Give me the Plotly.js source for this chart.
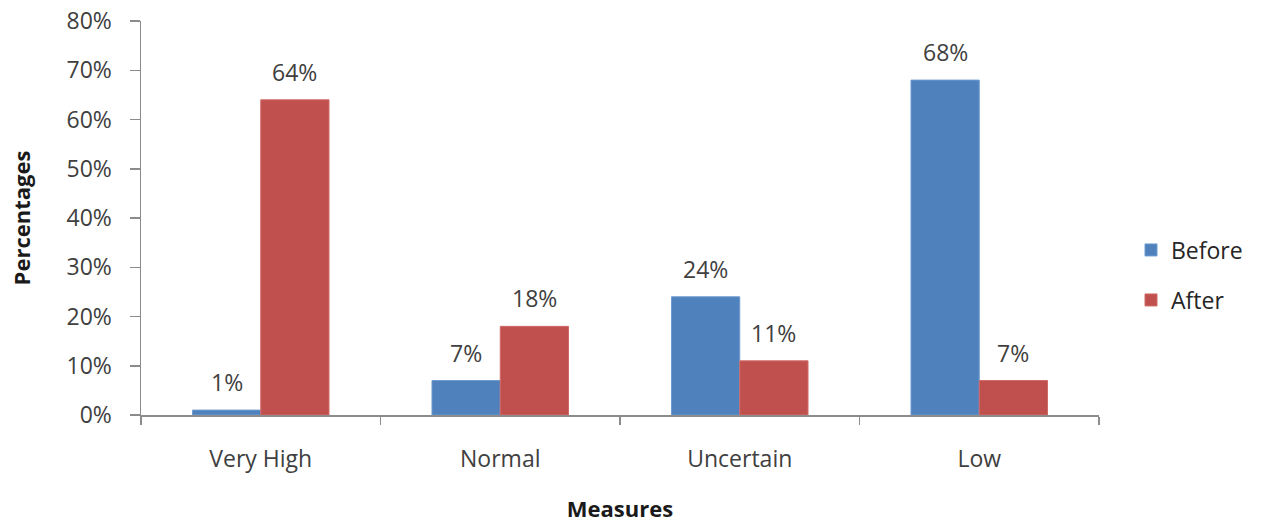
<!DOCTYPE html>
<html>
<head>
<meta charset="utf-8">
<script src="https://cdn.plot.ly/plotly-3.0.1.min.js"></script>
<style>
  html, body { margin: 0; padding: 0; background: #fff; }
  #chart { width: 1262px; height: 523px; }
</style>
</head>
<body>
<div id="chart"></div>
<script>
// Share of responses per measure, before and after
const categories = ["Very High", "Normal", "Uncertain", "Low"];
const beforeValues = [0.01, 0.07, 0.24, 0.68];
const afterValues = [0.64, 0.18, 0.11, 0.07];
const seriesNames = ["Before", "After"];
const yTickValues = [0, 0.1, 0.2, 0.3, 0.4, 0.5, 0.6, 0.7, 0.8];

const FONT = "'Open Sans', Lato, sans-serif";
const FS = 23;
const BLUE = "#4F81BD";
const RED = "#C0504D";

const traces = [
  {
    type: "bar", name: seriesNames[0], x: categories, y: beforeValues,
    marker: { color: BLUE, line: { color: "#6f9bd0", width: 1 } },
    legend: "legend", hoverinfo: "x+y"
  },
  {
    type: "bar", name: seriesNames[1], x: categories, y: afterValues,
    marker: { color: RED, line: { color: "#d06a67", width: 1 } },
    legend: "legend2", hoverinfo: "x+y"
  }
];

// value labels above each bar, offset to its slot in the group
const barOffset = 34;
const annotations = [];
[beforeValues, afterValues].forEach((vals, s) => {
  vals.forEach((v, i) => {
    annotations.push({
      x: categories[i], y: v, xref: "x", yref: "y",
      text: Math.round(v * 100) + "%",
      showarrow: false, xanchor: "center", yanchor: "middle",
      xshift: s === 0 ? -barOffset : barOffset, yshift: 28,
      font: { family: FONT, size: FS, color: "#404040" }
    });
  });
});

const layout = {
  width: 1262, height: 523,
  margin: { l: 141, r: 163, t: 21, b: 108 },
  paper_bgcolor: "#fff", plot_bgcolor: "#fff",
  barmode: "group", bargap: 0.43, bargroupgap: 0,
  font: { family: FONT, size: FS, color: "#404040" },
  xaxis: {
    type: "category",
    showline: true, linecolor: "#8c8c8c", linewidth: 1.5,
    ticks: "outside", tickson: "boundaries", ticklen: 8, tickcolor: "#8c8c8c", tickwidth: 1.5,
    showgrid: false, zeroline: false,
    tickfont: { family: FONT, size: FS, color: "#404040" },
    ticklabelstandoff: 23,
    title: { text: "<b>Measures</b>", font: { family: FONT, size: 22, color: "#1a1a1a" }, standoff: 32 }
  },
  yaxis: {
    range: [0, 0.8], tickvals: yTickValues, tickformat: ".0%",
    showline: true, linecolor: "#8c8c8c", linewidth: 1.5,
    ticks: "outside", ticklen: 10, tickcolor: "#8c8c8c", tickwidth: 1.5,
    showgrid: false, zeroline: false,
    tickfont: { family: FONT, size: FS, color: "#404040" },
    ticklabelstandoff: 13,
    title: { text: "<b>Percentages</b>", font: { family: FONT, size: 22, color: "#1a1a1a" }, standoff: 30 }
  },
  showlegend: true,
  legend: {
    font: { family: FONT, size: FS, color: "#262626" }, bgcolor: "rgba(0,0,0,0)"
  },
  legend2: {
    font: { family: FONT, size: FS, color: "#262626" }, bgcolor: "rgba(0,0,0,0)"
  },
  annotations: annotations
};

// legend positions in paper fraction
layout.legend.x = (1131 - 141) / (1262 - 141 - 163);
layout.legend.y = (415 - 250) / (415 - 21);
layout.legend.yanchor = "middle";
layout.legend.xanchor = "left";
layout.legend2.x = layout.legend.x;
layout.legend2.y = (415 - 300) / (415 - 21);
layout.legend2.yanchor = "middle";
layout.legend2.xanchor = "left";

Plotly.newPlot("chart", traces, layout, { displayModeBar: false, staticPlot: true });
</script>
</body>
</html>
